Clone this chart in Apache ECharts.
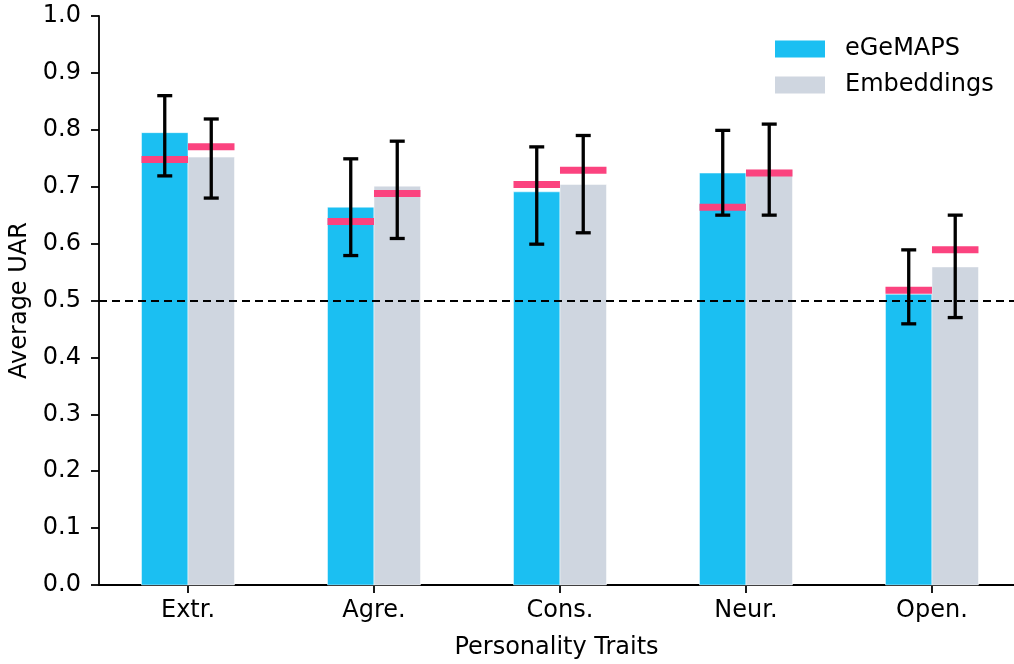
<!DOCTYPE html>
<html>
<head>
<meta charset="utf-8">
<script src="https://cdn.jsdelivr.net/npm/echarts@6/dist/echarts.min.js"></script>
<style>
  html, body { margin: 0; padding: 0; background: #fff; }
  #chart { width: 1014px; height: 664px; }
</style>
</head>
<body>
<div id="chart"></div>
<script>
// Personality traits on the x axis
const categories = ['Extr.', 'Agre.', 'Cons.', 'Neur.', 'Open.'];

// Average UAR per trait, with the lower / upper end of each error bar and the median marker
const egemapsMean = [0.795, 0.664, 0.691, 0.724, 0.511];
const egemapsLow = [0.719, 0.579, 0.599, 0.650, 0.459];
const egemapsHigh = [0.860, 0.749, 0.770, 0.799, 0.589];
const egemapsMedian = [0.748, 0.639, 0.704, 0.664, 0.518];

const embeddingsMean = [0.752, 0.701, 0.704, 0.730, 0.559];
const embeddingsLow = [0.680, 0.609, 0.619, 0.650, 0.470];
const embeddingsHigh = [0.819, 0.780, 0.790, 0.810, 0.650];
const embeddingsMedian = [0.770, 0.688, 0.729, 0.724, 0.589];

// Chance level
const chanceLevel = 0.5;

const BLUE = '#1bbff2';
const GREY = '#cfd6e0';
const PINK = '#fb437f';
const BAR_W = 0.25;     // bar width in category units
const FONT = 'DejaVu Sans';
const FS = 24;

function barSeries(name, mean, offset, color) {
  return {
    name: name,
    type: 'custom',
    itemStyle: { color: color },
    data: mean.map((v, i) => [i, v]),
    z: 2,
    renderItem: (params, api) => {
      const x = api.value(0) + offset;
      const p0 = api.coord([x - BAR_W / 2, api.value(1)]);
      const p1 = api.coord([x + BAR_W / 2, 0]);
      return {
        type: 'rect',
        shape: { x: p0[0], y: p0[1], width: p1[0] - p0[0], height: p1[1] - p0[1] },
        style: { fill: color, stroke: '#ffffff', lineWidth: 0.5 }
      };
    }
  };
}

function medianSeries(name, median, offset) {
  return {
    name: name,
    type: 'custom',
    data: median.map((v, i) => [i, v]),
    z: 3,
    renderItem: (params, api) => {
      const x = api.value(0) + offset;
      const p0 = api.coord([x - BAR_W / 2, api.value(1)]);
      const p1 = api.coord([x + BAR_W / 2, api.value(1)]);
      return {
        type: 'rect',
        shape: { x: p0[0], y: p0[1] - 3.5, width: p1[0] - p0[0], height: 7 },
        style: { fill: PINK }
      };
    }
  };
}

function errorSeries(name, low, high, offset) {
  return {
    name: name,
    type: 'custom',
    data: low.map((v, i) => [i, v, high[i]]),
    z: 5,
    renderItem: (params, api) => {
      const x = api.value(0) + offset;
      const lo = api.coord([x, api.value(1)]);
      const hi = api.coord([x, api.value(2)]);
      const cap = 7.5;
      const st = { stroke: '#000', lineWidth: 3.3 };
      return {
        type: 'group',
        children: [
          { type: 'line', shape: { x1: hi[0], y1: hi[1], x2: lo[0], y2: lo[1] }, style: st },
          { type: 'line', shape: { x1: hi[0] - cap, y1: hi[1], x2: hi[0] + cap, y2: hi[1] }, style: st },
          { type: 'line', shape: { x1: lo[0] - cap, y1: lo[1], x2: lo[0] + cap, y2: lo[1] }, style: st }
        ]
      };
    }
  };
}

const chart = echarts.init(document.getElementById('chart'), null, { renderer: 'canvas' });

chart.setOption({
  animation: false,
  backgroundColor: '#fff',
  textStyle: { fontFamily: FONT },
  grid: { left: 99, right: 0, top: 16, bottom: 79, containLabel: false, outerBoundsMode: 'none' },
  legend: {
    orient: 'vertical',
    left: 770,
    top: 32,
    itemWidth: 50,
    itemHeight: 17,
    itemGap: 12,
    data: [
      { name: 'eGeMAPS', icon: 'rect' },
      { name: 'Embeddings', icon: 'rect' }
    ],
    textStyle: { fontFamily: FONT, fontSize: FS, color: '#000', padding: [0, 0, 0, 15] }
  },
  xAxis: {
    type: 'value',
    min: -0.4785,
    max: 4.441,
    splitLine: { show: false },
    axisLine: { show: true, onZero: false, lineStyle: { color: '#000', width: 1.8 } },
    axisTick: {
      show: true, length: 8, inside: false,
      customValues: categories.map((c, i) => i),
      lineStyle: { color: '#000', width: 1.8 }
    },
    axisLabel: {
      customValues: categories.map((c, i) => i),
      formatter: (v) => categories[Math.round(v)],
      fontFamily: FONT, fontSize: FS, color: '#000', margin: 14
    },
    name: 'Personality Traits',
    nameLocation: 'middle',
    nameGap: 51,
    nameTextStyle: { fontFamily: FONT, fontSize: FS, color: '#000' }
  },
  yAxis: {
    type: 'value',
    min: 0,
    max: 1.0,
    interval: 0.1,
    splitLine: { show: false },
    axisLine: { show: true, onZero: false, lineStyle: { color: '#000', width: 1.8 } },
    axisTick: { show: true, length: 8, lineStyle: { color: '#000', width: 1.8 } },
    axisLabel: {
      formatter: (v) => v.toFixed(1),
      fontFamily: FONT, fontSize: FS, color: '#000', margin: 18
    },
    name: 'Average UAR',
    nameLocation: 'middle',
    nameRotate: 90,
    nameGap: 62,
    nameTextStyle: { fontFamily: FONT, fontSize: FS, color: '#000' }
  },
  series: [
    barSeries('eGeMAPS', egemapsMean, -BAR_W / 2, BLUE),
    barSeries('Embeddings', embeddingsMean, BAR_W / 2, GREY),
    medianSeries('eGeMAPS median', egemapsMedian, -BAR_W / 2),
    medianSeries('Embeddings median', embeddingsMedian, BAR_W / 2),
    errorSeries('eGeMAPS range', egemapsLow, egemapsHigh, -BAR_W / 2),
    errorSeries('Embeddings range', embeddingsLow, embeddingsHigh, BAR_W / 2),
    {
      name: 'Chance',
      type: 'line',
      data: [],
      z: 4,
      markLine: {
        silent: true,
        symbol: ['none', 'none'],
        label: { show: false },
        lineStyle: { color: '#000', width: 2, type: [8, 5] },
        data: [{ yAxis: chanceLevel }]
      }
    }
  ]
});
</script>
</body>
</html>
